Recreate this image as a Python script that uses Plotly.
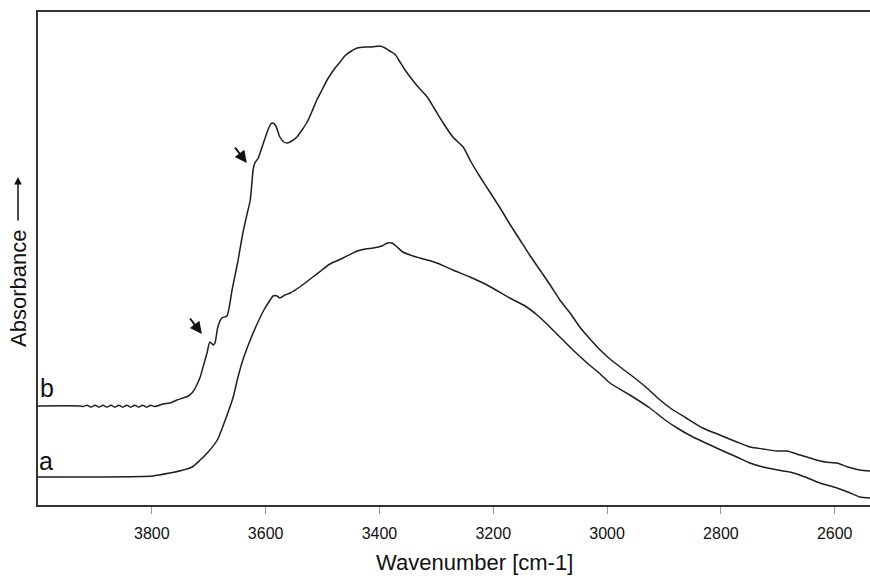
import plotly.graph_objects as go

# Curve b (upper spectrum): wavenumber [cm-1] and absorbance (arbitrary units)
wn_b = [4000, 3926, 3921, 3914, 3907, 3900, 3893, 3886, 3879, 3872, 3865, 3858, 3851, 3844,
        3837, 3830, 3823, 3816, 3809, 3802, 3795, 3780, 3768, 3756, 3745, 3736, 3728, 3721,
        3715, 3708, 3703, 3698, 3692, 3689, 3684, 3677, 3668, 3659, 3649, 3640, 3633, 3627,
        3622, 3619, 3613, 3605, 3596, 3591, 3587, 3582, 3575, 3568, 3562, 3554, 3545, 3536,
        3527, 3519, 3510, 3501, 3492, 3478, 3469, 3461, 3452, 3439, 3425, 3413, 3399, 3390,
        3382, 3373, 3364, 3355, 3346, 3332, 3316, 3302, 3288, 3271, 3253, 3239, 3223, 3206,
        3188, 3171, 3153, 3135, 3118, 3100, 3083, 3065, 3048, 3030, 3012, 2995, 2977, 2956,
        2930, 2911, 2889, 2861, 2832, 2802, 2772, 2749, 2726, 2701, 2684, 2661, 2638, 2617,
        2596, 2577, 2556, 2538]
abs_b = [99, 99, 98.5, 99.8, 97.8, 99.8, 97.8, 99.8, 97.8, 99.8, 97.8, 99.8, 97.8, 99.8,
         97.8, 99.8, 97.8, 99.8, 97.8, 99.8, 98.5, 101, 102, 105, 107, 109, 113, 120,
         128, 142, 152, 163, 160, 162, 178, 187, 189, 215, 243, 272, 290, 305,
         335, 342, 347, 360, 375, 381, 382, 379, 368, 363, 362, 364, 368, 375,
         383, 393, 405, 415, 425, 437, 443, 449, 453, 457, 458, 458, 459, 457,
         454, 451, 443, 435, 428, 418, 408, 395, 382, 368, 358, 343, 328, 313,
         297, 281, 265, 249, 235, 220, 205, 192, 178, 166, 155, 146, 138, 129,
         117, 107, 97, 87, 77, 70, 63, 58, 56, 54, 54, 50, 46, 43,
         42, 38, 35, 34]

# Curve a (lower spectrum)
wn_a = [4000, 3891, 3798, 3768, 3745, 3729, 3715, 3701, 3685, 3671, 3657, 3649, 3640, 3627,
        3615, 3603, 3592, 3587, 3580, 3575, 3566, 3557, 3540, 3517, 3501, 3487, 3464, 3439,
        3425, 3411, 3396, 3386, 3378, 3369, 3359, 3346, 3329, 3299, 3271, 3241, 3211, 3171,
        3144, 3123, 3104, 3083, 3060, 3035, 3012, 2995, 2960, 2925, 2898, 2877, 2849, 2819,
        2796, 2772, 2749, 2726, 2700, 2679, 2652, 2626, 2596, 2577, 2556, 2538]
abs_a = [28, 28, 29, 32, 35, 38, 45, 53, 65, 85, 108, 127, 145, 165,
         181, 195, 205, 209, 209, 207, 210, 212, 218, 228, 235, 241, 247, 254,
         256, 257, 259, 262, 262, 258, 253, 250, 247, 242, 235, 228, 220, 207,
         199, 190, 180, 168, 155, 142, 131, 122, 110, 97, 85, 77, 68, 60,
         54, 48, 42, 38, 35, 33, 28, 22, 17, 13, 8, 7]

tick_vals = [3800, 3600, 3400, 3200, 3000, 2800, 2600]
tick_text = ["3800", "3600", "3400", "3200", "3000", "2800", "2600"]

# Arrow markers (head positions) on curve b
arrow_wn = [3633, 3712]
arrow_abs = [342, 171]

line_col = "#1e1e1e"
font_family = "Liberation Sans, Arial, sans-serif"

fig = go.Figure()
fig.add_trace(go.Scatter(x=wn_b, y=abs_b, mode="lines",
                         line=dict(color=line_col, width=1.5, shape="spline", smoothing=0.6),
                         showlegend=False))
fig.add_trace(go.Scatter(x=wn_a, y=abs_a, mode="lines",
                         line=dict(color=line_col, width=1.5, shape="spline", smoothing=0.6),
                         showlegend=False))

annotations = []
for xw, ya in zip(arrow_wn, arrow_abs):
    annotations.append(dict(x=xw, y=ya, xref="x", yref="y", ax=-13, ay=-17,
                            showarrow=True, arrowhead=2, arrowsize=1.2,
                            arrowwidth=2, arrowcolor="#111", text="", standoff=0))

annotations.append(dict(x=3984, y=117, xref="x", yref="y", text="b",
                        xanchor="center", yanchor="middle", showarrow=False,
                        font=dict(size=25, color="#111", family=font_family)))
annotations.append(dict(x=3986, y=44, xref="x", yref="y", text="a",
                        xanchor="center", yanchor="middle", showarrow=False,
                        font=dict(size=25, color="#111", family=font_family)))

# y-axis title and upward arrow
annotations.append(dict(x=-20 / 832, y=(505 - 289) / 493, xref="paper", yref="paper",
                        text="Absorbance", textangle=-90, showarrow=False,
                        xanchor="center", yanchor="middle",
                        font=dict(size=22, color="#111", family=font_family)))
annotations.append(dict(x=-20 / 832, y=(505 - 177) / 493, xref="paper", yref="paper",
                        ax=0, ay=45, showarrow=True, arrowhead=2, arrowsize=1,
                        arrowwidth=1.5, arrowcolor="#111", text="", standoff=0))
# x-axis title
annotations.append(dict(x=(474 - 38) / 832, y=-(562 - 505) / 493, xref="paper", yref="paper",
                        text="Wavenumber [cm-1]", showarrow=False,
                        xanchor="center", yanchor="middle",
                        font=dict(size=22, color="#111", family=font_family)))

fig.update_layout(
    width=870, height=576,
    margin=dict(l=38, r=0, t=12, b=71),
    paper_bgcolor="white", plot_bgcolor="white",
    font=dict(family=font_family, color="#111"),
    annotations=annotations,
    xaxis=dict(range=[4000, 2538], tickvals=tick_vals, ticktext=tick_text,
               showgrid=False, zeroline=False, showline=True, mirror=True,
               linecolor="#333", linewidth=2, ticks="outside", ticklen=7,
               tickcolor="#999", tickwidth=1, ticklabelstandoff=6,
               tickfont=dict(size=16, color="#111")),
    yaxis=dict(range=[0, 493], showgrid=False, zeroline=False, showline=True,
               linecolor="#333", linewidth=2, showticklabels=False, ticks=""),
)

fig.write_html("out.html", config={"displayModeBar": False},
               post_script="document.body.style.margin='0';")
